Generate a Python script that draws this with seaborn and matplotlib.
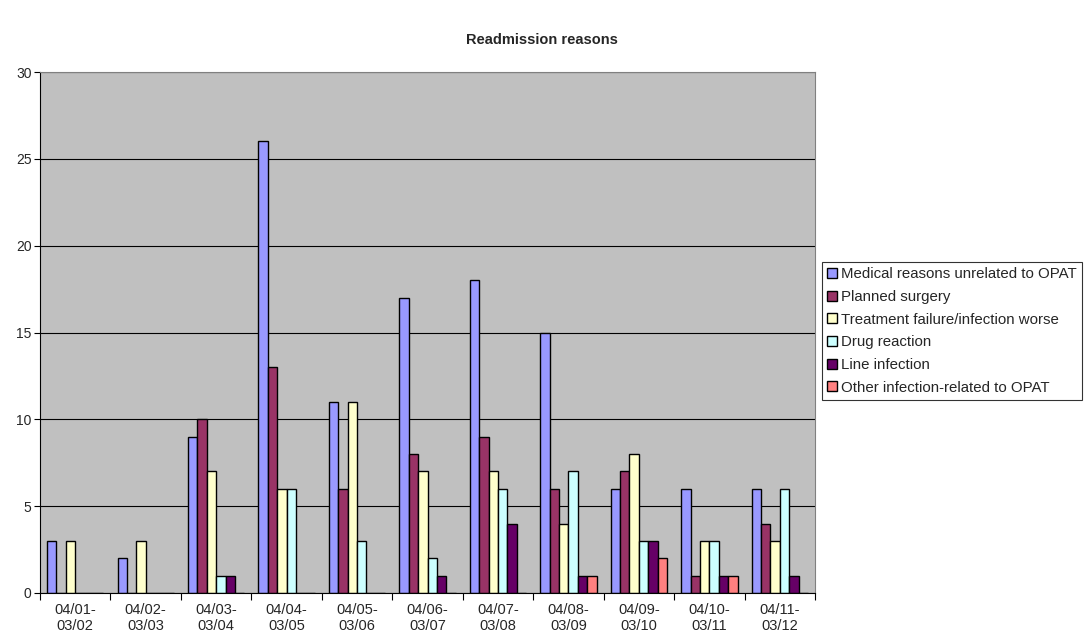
import numpy as np
import pandas as pd
import matplotlib
matplotlib.use("Agg")
import matplotlib.pyplot as plt
import seaborn as sns
from matplotlib.ticker import FixedLocator, MultipleLocator

periods = ["04/01-\n03/02", "04/02-\n03/03", "04/03-\n03/04", "04/04-\n03/05",
           "04/05-\n03/06", "04/06-\n03/07", "04/07-\n03/08", "04/08-\n03/09",
           "04/09-\n03/10", "04/10-\n03/11", "04/11-\n03/12"]

reasons = ["Medical reasons unrelated to OPAT", "Planned surgery",
           "Treatment failure/infection worse", "Drug reaction",
           "Line infection", "Other infection-related to OPAT"]

medical = [3, 2, 9, 26, 11, 17, 18, 15, 6, 6, 6]
surgery = [0, 0, 10, 13, 6, 8, 9, 6, 7, 1, 4]
treatment = [3, 3, 7, 6, 11, 7, 7, 4, 8, 3, 3]
drug = [0, 0, 1, 6, 3, 2, 6, 7, 3, 3, 6]
line_inf = [0, 0, 1, 0, 0, 1, 4, 1, 3, 1, 1]
other = [0, 0, 0, 0, 0, 0, 0, 1, 2, 1, 0]

colors = ["#9999FF", "#993366", "#FFFFCC", "#CCFFFF", "#660066", "#FF8080"]

series = [medical, surgery, treatment, drug, line_inf, other]
rows = []
for reason, vals in zip(reasons, series):
    for p, v in zip(periods, vals):
        rows.append({"period": p, "reason": reason, "count": v})
df = pd.DataFrame(rows)

sns.set_style("white")
plt.rcParams["font.family"] = ["Liberation Sans", "DejaVu Sans"]

fig = plt.figure(figsize=(10.85, 6.37), dpi=100)
ax = fig.add_axes([40 / 1085, 44 / 637, 775 / 1085, 521 / 637])
ax.set_facecolor("#C0C0C0")

sns.barplot(data=df, x="period", y="count", hue="reason", hue_order=reasons,
            order=periods, palette=colors, width=0.8, edgecolor="black",
            linewidth=1, saturation=1, ax=ax, legend=True)

ax.set_ylim(0, 30)
ax.set_xlim(-0.5, len(periods) - 0.5)
ax.yaxis.set_major_locator(MultipleLocator(5))
ax.grid(axis="y", color="black", linewidth=0.8)
ax.set_axisbelow(True)
ax.set_xlabel("")
ax.set_ylabel("")

for side in ["top", "right"]:
    ax.spines[side].set_color("#808080")
for side in ["left", "bottom"]:
    ax.spines[side].set_color("black")

ax.tick_params(axis="y", which="major", direction="out", length=4, width=0.8,
               color="black", labelsize=10, left=True, pad=2)
ax.tick_params(axis="x", which="major", length=0, labelsize=10.5, pad=7)
for lbl in ax.get_xticklabels():
    lbl.set_linespacing(1.25)
ax.xaxis.set_minor_locator(FixedLocator(np.arange(-0.5, len(periods), 1.0)))
ax.tick_params(axis="x", which="minor", direction="out", length=5, width=0.8,
               color="black", bottom=True)

ax.set_title("Readmission reasons", fontsize=10.5, fontweight="bold",
             x=(542 - 40) / 775, y=1.0, pad=20)

handles, labels = ax.get_legend_handles_labels()
leg = fig.legend(handles, labels, loc="upper left",
                 bbox_to_anchor=(822 / 1085, 1 - 262 / 637), fontsize=10.8,
                 frameon=True, fancybox=False, handlelength=0.65,
                 handleheight=0.65, handletextpad=0.25, labelspacing=0.58,
                 borderpad=0.35, borderaxespad=0)
leg.get_frame().set_edgecolor("black")
leg.get_frame().set_linewidth(0.8)
ax.get_legend().remove()

fig.savefig("out.png", dpi=100)
